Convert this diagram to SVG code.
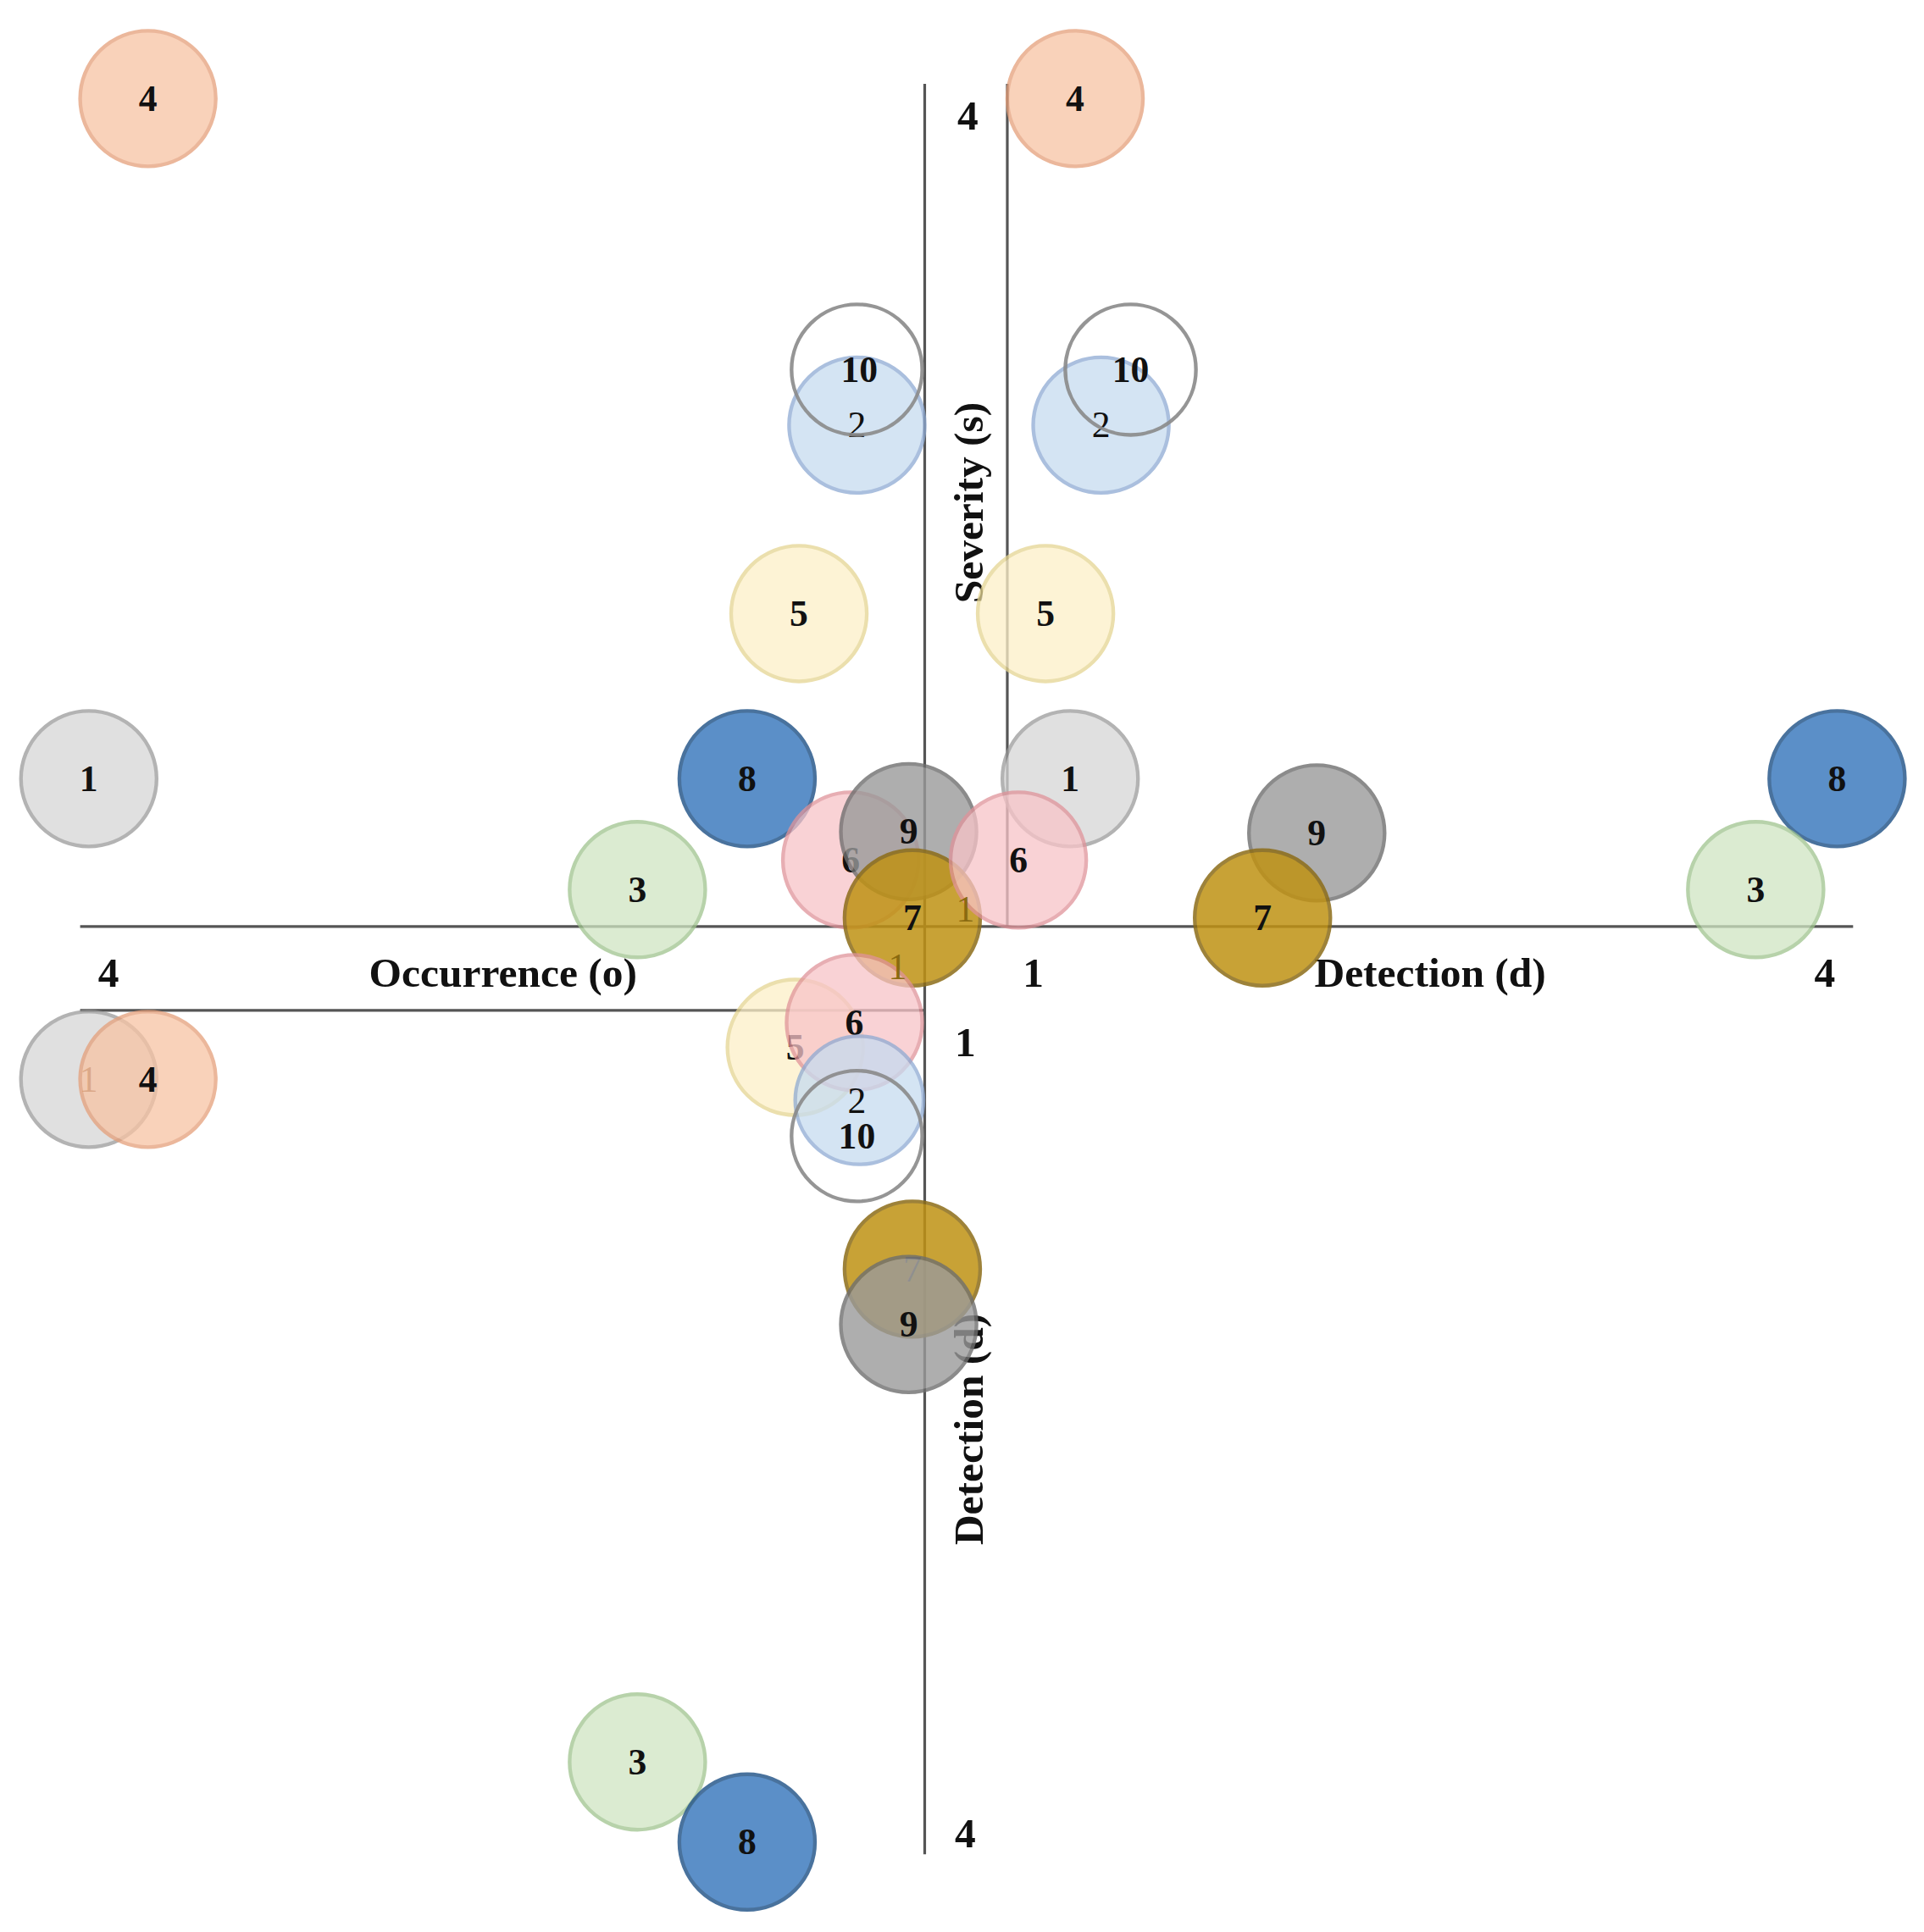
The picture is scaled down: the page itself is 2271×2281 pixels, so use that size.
<svg xmlns="http://www.w3.org/2000/svg" width="2271" height="2281" viewBox="0 0 2271 2281">
<style>
text{font-family:"Liberation Serif","DejaVu Serif",serif;font-weight:bold;fill:#111;text-anchor:middle}
.n{font-size:30px}
.ax{font-size:34px}
.l{stroke:#555;stroke-width:2.2;fill:none}
circle{stroke-width:3;opacity:0.75}
.c1{fill:#d6d6d6;stroke:#9a9a9a}
.c2{fill:#c6dbf0;stroke:#8eaad3}
.c3{fill:#cfe5c2;stroke:#9fc48e}
.c4{fill:#f7c3a3;stroke:#e59f7a}
.c5{fill:#fdf0c8;stroke:#e5d592}
.c6{fill:#f8c4c8;stroke:#e0939a}
.c7{fill:#bf9214;stroke:#8d6d18;opacity:0.85}
.c8{fill:#3f7cbf;stroke:#2a5a8c;opacity:0.85}
.c9{fill:#9a9a9a;stroke:#6f6f6f;opacity:0.8}
.c10{fill:none;stroke:#8a8a8a;opacity:0.9}
</style>
<rect width="2271" height="2281" fill="#fff"/>
<g transform="scale(1.4553 1.4547)">
<g id="axes" class="l">
<line x1="750" y1="68" x2="750" y2="1505"/>
<line x1="817" y1="68" x2="817" y2="752"/>
<line x1="65" y1="752" x2="1503" y2="752"/>
<line x1="65" y1="820" x2="750" y2="820"/>
</g>
<g id="axis-labels">
<text class="ax" x="785" y="105">4</text>
<text class="ax" x="838" y="801">1</text>
<text class="ax" x="1480" y="801">4</text>
<text class="ax" x="88" y="801">4</text>
<text class="ax" x="783" y="857">1</text>
<text class="ax" x="783" y="1499">4</text>
<text class="ax" x="408" y="801">Occurrence (o)</text>
<text class="ax" x="1160" y="801">Detection (d)</text>
<text class="ax" transform="translate(797,408) rotate(-90)">Severity (s)</text>
<text class="ax" transform="translate(797,1160) rotate(-90)">Detection (d)</text>
</g>
<g id="tl">
<g id="tl4"><circle class="c4" cx="120" cy="80" r="55"/><text class="n" x="120" y="90">4</text></g>
<g id="tl1"><circle class="c1" cx="72" cy="632" r="55"/><text class="n" x="72" y="642">1</text></g>
<g id="tl2"><circle class="c2" cx="695" cy="345" r="55"/><text class="n" x="695" y="355" style="font-weight:normal">2</text></g>
<g id="tl10"><circle class="c10" cx="695" cy="300" r="53"/><text class="n" x="697" y="310">10</text></g>
<g id="tl5"><circle class="c5" cx="648" cy="498" r="55"/><text class="n" x="648" y="508">5</text></g>
<g id="tl8"><circle class="c8" cx="606" cy="632" r="55"/><text class="n" x="606" y="642">8</text></g>
<g id="tl3"><circle class="c3" cx="517" cy="722" r="55"/><text class="n" x="517" y="732">3</text></g>
<g id="tl6"><circle class="c6" cx="690" cy="698" r="55"/><text class="n" x="690" y="708">6</text></g>
<g id="tl9"><circle class="c9" cx="737" cy="675" r="55"/><text class="n" x="737" y="685">9</text></g>
<g id="tl7"><circle class="c7" cx="740" cy="745" r="55"/><text class="n" x="740" y="755">7</text></g>
</g>
<g id="tr">
<g id="tr4"><circle class="c4" cx="872" cy="80" r="55"/><text class="n" x="872" y="90">4</text></g>
<g id="tr2"><circle class="c2" cx="893" cy="345" r="55"/><text class="n" x="893" y="355" style="font-weight:normal">2</text></g>
<g id="tr10"><circle class="c10" cx="917" cy="300" r="53"/><text class="n" x="917" y="310">10</text></g>
<g id="tr5"><circle class="c5" cx="848" cy="498" r="55"/><text class="n" x="848" y="508">5</text></g>
<g id="tr1"><circle class="c1" cx="868" cy="632" r="55"/><text class="n" x="868" y="642">1</text></g>
<g id="tr6"><circle class="c6" cx="826" cy="698" r="55"/><text class="n" x="826" y="708">6</text></g>
<g id="tr9"><circle class="c9" cx="1068" cy="676" r="55"/><text class="n" x="1068" y="686">9</text></g>
<g id="tr7"><circle class="c7" cx="1024" cy="745" r="55"/><text class="n" x="1024" y="755">7</text></g>
<g id="tr8"><circle class="c8" cx="1490" cy="632" r="55"/><text class="n" x="1490" y="642">8</text></g>
<g id="tr3"><circle class="c3" cx="1424" cy="722" r="55"/><text class="n" x="1424" y="732">3</text></g>
</g>
<g id="bl">
<g id="bl1"><circle class="c1" cx="72" cy="876" r="55"/><text class="n" x="72" y="886" style="fill:#8a5a3a;font-weight:normal">1</text></g>
<g id="bl4"><circle class="c4" cx="120" cy="876" r="55"/><text class="n" x="120" y="886">4</text></g>
<g id="bl5"><circle class="c5" cx="645" cy="850" r="55"/><text class="n" x="645" y="860">5</text></g>
<g id="bl6"><circle class="c6" cx="693" cy="830" r="55"/><text class="n" x="693" y="840">6</text></g>
<g id="bl2"><circle class="c2" cx="697" cy="893" r="52"/><text class="n" x="695" y="903" style="font-weight:normal">2</text></g>
<g id="bl10"><circle class="c10" cx="695" cy="922" r="53"/><text class="n" x="695" y="932">10</text></g>
<g id="bl7"><circle class="c7" cx="740" cy="1030" r="55"/><text class="n" x="740" y="1040" style="font-weight:normal;fill:#666">7</text></g>
<g id="bl9"><circle class="c9" cx="737" cy="1075" r="55"/><text class="n" x="737" y="1085">9</text></g>
<g id="bl3"><circle class="c3" cx="517" cy="1430" r="55"/><text class="n" x="517" y="1440">3</text></g>
<g id="bl8"><circle class="c8" cx="606" cy="1495" r="55"/><text class="n" x="606" y="1505">8</text></g>
</g>
<g id="faint">
<text class="n" x="783" y="748" style="fill:#8a6a10;font-weight:normal">1</text>
<text class="n" x="728" y="795" style="fill:#8a6a10;font-weight:normal">1</text>
</g>
</g>
</svg>
